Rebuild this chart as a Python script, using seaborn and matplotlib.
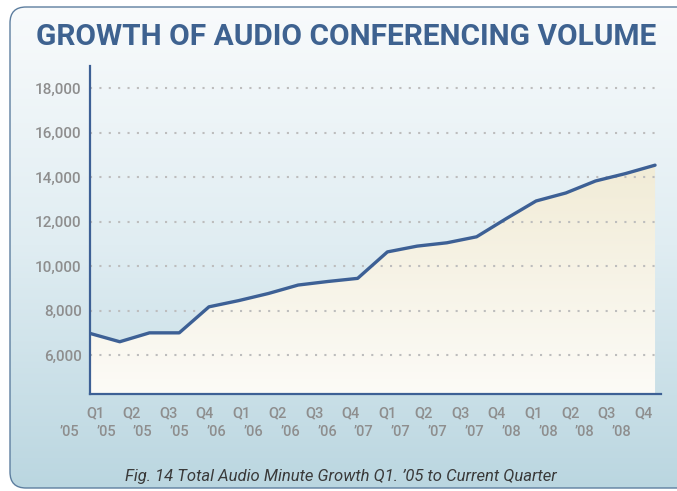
import numpy as np
import matplotlib
matplotlib.use("Agg")
import matplotlib.pyplot as plt
from matplotlib.patches import FancyBboxPatch
from matplotlib.colors import LinearSegmentedColormap
import seaborn as sns

# data
period = np.arange(20)
volume = [6975, 6600, 7000, 7000, 8170, 8450, 8770, 9150, 9310, 9450,
          10640, 10900, 11050, 11320, 12140, 12930, 13290, 13830, 14160, 14540]
quarter_labels = ["Q1", "Q2", "Q3", "Q4"] * 4
year_labels = ["\u201905"] * 4 + ["\u201906"] * 4 + ["\u201907"] * 4 + ["\u201908"] * 4
y_ticks = [6000, 8000, 10000, 12000, 14000, 16000, 18000]

title = "GROWTH OF AUDIO CONFERENCING VOLUME"
caption = "Fig. 14 Total Audio Minute Growth Q1. \u201905 to Current Quarter"

sns.set_theme(style="white")
plt.rcParams['font.family'] = ['Roboto', 'DejaVu Sans']

blue = "#3d6095"
grey = "#8e8e8e"

fig = plt.figure(figsize=(6.77, 4.91), dpi=100)
fig.patch.set_facecolor("white")

# background panel with vertical gradient
bg = fig.add_axes([0, 0, 1, 1])
bg.set_xlim(0, 677)
bg.set_ylim(491, 0)
bg.axis("off")
panel_cmap = LinearSegmentedColormap.from_list("panel", ["#f9fbfc", "#e0edf2", "#bad6e0"])
grad = np.linspace(0, 1, 256).reshape(-1, 1)
im = bg.imshow(grad, cmap=panel_cmap, extent=(0, 677, 491, 0), aspect="auto")
panel = FancyBboxPatch((10, 7), 720, 481, boxstyle="round,pad=0,rounding_size=16",
                       fc="none", ec="#5d7e9f", lw=1.0)
bg.add_patch(panel)
im.set_clip_path(panel)

bg.text(346, 37, title, ha="center", va="center", fontsize=21.5, fontweight="bold",
        color="#3e6290")
bg.text(341, 477, caption, ha="center", va="center", fontsize=12, style="italic",
        color="#3a3a3a")

# main chart
ax = fig.add_axes([90 / 677, (491 - 394) / 491, (661 - 90) / 677, (394 - 66) / 491])
ax.set_facecolor("none")
ax.set_xlim(0, 19.2)
ax.set_ylim(4250, 19000)

fill = ax.fill_between(period, volume, 4250, color="none", lw=0, zorder=0.2)
fill_cmap = LinearSegmentedColormap.from_list("fill", ["#fcfbf7", "#f1ebd5"])
fim = ax.imshow(grad, cmap=fill_cmap, origin="lower", extent=(0, 19.2, 4250, 15000),
                aspect="auto", zorder=0.3)
fim.set_clip_path(fill.get_paths()[0], transform=ax.transData)

sns.lineplot(x=period, y=volume, ax=ax, color=blue, lw=2.4, zorder=3)

ax.set_yticks(y_ticks)
ax.set_yticklabels([f"{v:,}" for v in y_ticks])
ax.tick_params(axis="y", length=0, pad=6, labelsize=11, labelcolor=grey)
for t in ax.get_yticklabels():
    t.set_fontweight("medium")
ax.set_xticks([])

ax.set_axisbelow("line")
ax.yaxis.grid(True, linestyle=(0, (1, 3.5)), color="#bdbdbd", lw=1.5)
ax.xaxis.grid(False)

for s in ["top", "right"]:
    ax.spines[s].set_visible(False)
for s in ["left", "bottom"]:
    ax.spines[s].set_color(blue)
    ax.spines[s].set_linewidth(1.6)

# two rows of period labels under the axis
xt = ax.get_xaxis_transform()
for pos, lab in zip(np.linspace(0.17, 18.6, 16), quarter_labels):
    ax.text(pos, -0.058, lab, transform=xt, ha="center", va="center",
            fontsize=10.5, color=grey, fontweight="medium")
for pos, lab in zip(np.linspace(-0.70, 17.88, 16), year_labels):
    ax.text(pos, -0.116, lab, transform=xt, ha="center", va="center",
            fontsize=10.5, color=grey, fontweight="medium")

fig.savefig("out.png", dpi=100)
